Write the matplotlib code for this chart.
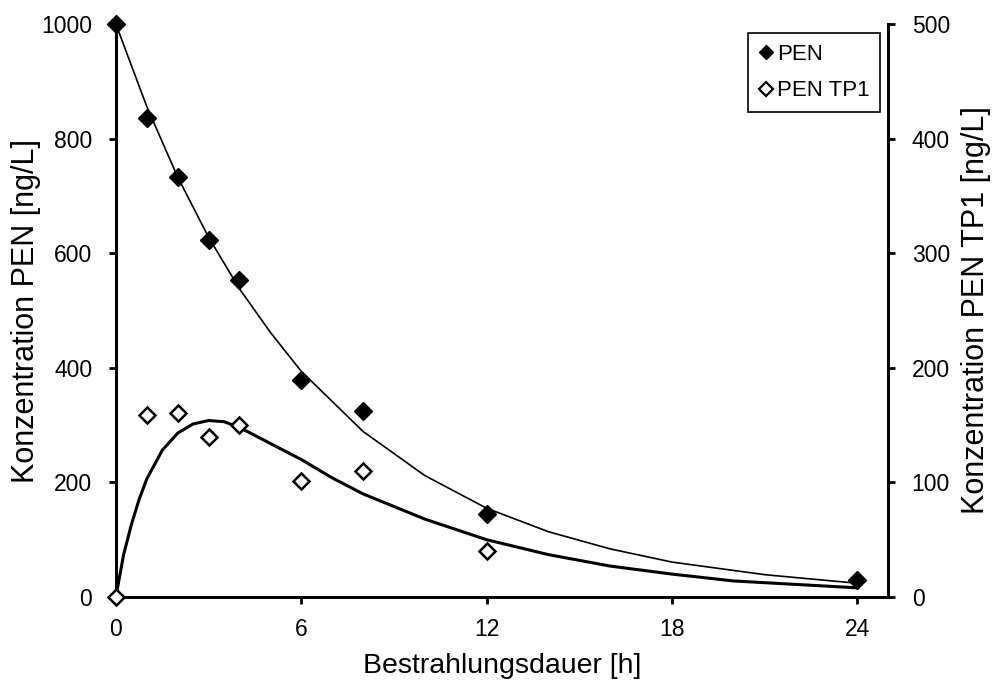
import numpy as np
import matplotlib.pyplot as plt
from matplotlib.lines import Line2D

plt.rcParams['font.family'] = ['Liberation Sans', 'DejaVu Sans']

# Messwerte
zeit = [0, 1, 2, 3, 4, 6, 8, 12, 24]
pen = [1000, 836, 733, 623, 553, 379, 325, 145, 30]
zeit_tp1 = [0, 1, 2, 3, 4, 6, 8, 12]
pen_tp1 = [0, 159, 161, 140, 150, 101, 110, 40]

# Modellkurven
t_pen_fit = [0, 1, 2, 3, 4, 5, 6, 8, 10, 12, 14, 16, 18, 21, 24]
pen_fit = [1000, 856, 733, 628, 538, 462, 394, 289, 212, 155, 114, 84, 61, 39, 24]
t_tp1_fit = [0, 0.25, 0.5, 0.75, 1, 1.5, 2, 2.5, 3, 3.5, 4, 5, 6, 7, 8, 10, 12,
             14, 16, 18, 20, 22, 24]
tp1_fit = [0, 37, 63, 85, 103, 128, 143, 151, 154, 153, 148, 134, 120, 104, 90,
           68, 50, 37, 27, 20, 14, 11, 8]

fig = plt.figure(figsize=(9.99, 6.87), dpi=100)
ax = fig.add_axes([0.116, 0.131, 0.773, 0.834])
ax2 = ax.twinx()

ax.plot(t_pen_fit, pen_fit, color='k', lw=1.2, zorder=2)
ax.plot(zeit, pen, ls='none', marker='D', ms=9, mfc='k', mec='k', zorder=3,
        clip_on=False)
ax2.plot(t_tp1_fit, tp1_fit, color='k', lw=2.2, zorder=2)
ax2.plot(zeit_tp1, pen_tp1, ls='none', marker='D', ms=8, mfc='white', mec='k',
         mew=1.8, zorder=3, clip_on=False)

ax.set_xlim(0, 25)
ax.set_ylim(0, 1000)
ax2.set_ylim(0, 500)
ax.set_xticks([0, 6, 12, 18, 24])
ax.set_yticks([0, 200, 400, 600, 800, 1000])
ax2.set_yticks([0, 100, 200, 300, 400, 500])

for a in (ax, ax2):
    for s in a.spines.values():
        s.set_linewidth(2.0)
    a.spines['top'].set_visible(False)
    a.tick_params(labelsize=16.5, width=2.0, length=5, direction='out', pad=12)
ax.tick_params(axis='x', pad=10)

ax.set_xlabel('Bestrahlungsdauer [h]', fontsize=20.5, labelpad=9)
ax.set_ylabel('Konzentration PEN [ng/L]', fontsize=22, labelpad=0)
ax2.set_ylabel('Konzentration PEN TP1 [ng/L]', fontsize=22, labelpad=8)

handles = [Line2D([], [], ls='none', marker='D', ms=7, mfc='k', mec='k'),
           Line2D([], [], ls='none', marker='D', ms=7, mfc='white', mec='k', mew=1.6)]
leg = ax.legend(handles, ['PEN', 'PEN TP1'], loc='upper right',
                bbox_to_anchor=(0.99, 0.985), fontsize=16, fancybox=False,
                edgecolor='k', framealpha=1, handlelength=0.6, handletextpad=0.2,
                borderpad=0.5, labelspacing=0.7, borderaxespad=0)
leg.get_frame().set_linewidth(1.2)

fig.savefig('out.png', dpi=100)
